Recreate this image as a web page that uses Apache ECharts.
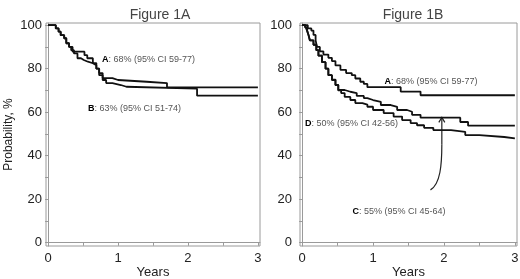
<!DOCTYPE html>
<html>
<head>
<meta charset="utf-8">
<script src="https://cdn.jsdelivr.net/npm/echarts@6/dist/echarts.min.js"></script>
<style>
  html, body { margin: 0; padding: 0; background: #fff; }
  #chart { width: 520px; height: 279px; }
</style>
</head>
<body>
<div id="chart"></div>
<script>
// Figure 1A: two curves (time in years, probability %)
const timesA1 = [0, 0.11, 0.15, 0.18, 0.23, 0.26, 0.3, 0.35, 0.52, 0.56, 0.64, 0.69, 0.73, 0.78, 0.92, 1.0, 1.41, 1.7, 3];
const survA1  = [100, 98.5, 97, 95.4, 94, 91.7, 90, 87.8, 86.2, 84.8, 82.6, 80, 77, 75.7, 74.8, 74, 73.4, 71.4, 71.4];
const timesB1 = [0, 0.11, 0.15, 0.18, 0.23, 0.26, 0.3, 0.33, 0.37, 0.42, 0.47, 0.51, 0.57, 0.64, 0.69, 0.73, 0.78, 0.83, 0.92, 1.04, 1.12, 2.13, 3];
const survB1  = [100, 98.5, 97, 95.4, 94, 91.7, 90, 88.5, 87, 84.8, 84, 83.2, 82.5, 81.6, 80, 78, 74.8, 73.4, 72.5, 71.7, 70.8, 67.6, 67.6];

// Figure 1B: three curves
const timesA2 = [0, 0.08, 0.13, 0.16, 0.19, 0.21, 0.25, 0.3, 0.37, 0.42, 0.47, 0.54, 0.62, 0.7, 0.75, 0.82, 0.87, 0.92, 1.39, 1.67, 3];
const survA2  = [100, 98.5, 97.5, 95.5, 93, 90, 88, 86.5, 85, 83.5, 81.5, 79.5, 78, 77, 75.5, 74, 73, 71.5, 69.5, 67.8, 67.8];
const timesC2 = [0, 0.04, 0.07, 0.09, 0.11, 0.16, 0.2, 0.23, 0.28, 0.33, 0.37, 0.42, 0.47, 0.51, 0.6, 0.68, 0.77, 0.87, 0.92, 1.0, 1.11, 1.25, 1.34, 1.48, 1.55, 1.67, 2.23, 2.34, 3];
const survC2  = [100, 99, 97.5, 95.5, 93, 91, 88.5, 86, 83, 80, 77, 75, 72.5, 70.2, 69.4, 68.8, 67.5, 66.5, 65.6, 64.8, 63.3, 62.5, 61, 60.2, 58.8, 57.5, 55.5, 53.8, 53.8];
const timesD2 = [0, 0.05, 0.07, 0.09, 0.11, 0.16, 0.2, 0.23, 0.28, 0.33, 0.37, 0.42, 0.47, 0.51, 0.55, 0.6, 0.68, 0.75, 0.85, 0.92, 1.0, 1.15, 1.29, 1.41, 1.53, 1.62, 1.72, 1.85, 2.1, 2.3, 2.5, 2.85, 3];
const survD2  = [100, 99, 97.5, 95.5, 93, 91, 88.5, 86, 83, 80, 77, 74.8, 72.5, 70, 68.8, 67, 65.6, 64.2, 63.5, 62.5, 61, 59.6, 58, 56.4, 55, 54, 52.8, 51.8, 51, 49.5, 48.6, 48, 48];

// axis ticks / labels
const xLabelValues = [0, 1, 2, 3];
const xTickValues = [0, 0.5, 1, 1.5, 2, 2.5, 3];
const yLabelValues = [0, 20, 40, 60, 80, 100];
const yTickValues = [0, 10, 20, 30, 40, 50, 60, 70, 80, 90, 100];

const panelTitles = ["Figure 1A", "Figure 1B"];

const pairs = (ts, vs) => ts.map((t, i) => [t, vs[i]]);

const chart = echarts.init(document.getElementById("chart"));

const axisGray = "#9a9a9a";
const fontFamily = "Liberation Sans, Arial, sans-serif";
const labelFont = { color: "#222", fontSize: 13, fontFamily: fontFamily };

function makeX(gridIndex) {
  return {
    type: "value", gridIndex: gridIndex, min: -0.03, max: 3.03,
    name: "Years", nameLocation: "middle", nameGap: 20, nameMoveOverlap: false,
    nameTextStyle: { color: "#222", fontSize: 13, fontFamily: fontFamily },
    axisLine: { lineStyle: { color: axisGray, width: 1 } },
    axisTick: { customValues: xTickValues, length: 3, lineStyle: { color: axisGray } },
    axisLabel: Object.assign({ customValues: xLabelValues, margin: 6 }, labelFont),
    splitLine: { show: false }
  };
}
function makeY(gridIndex, margin, withName) {
  return {
    type: "value", gridIndex: gridIndex, min: -1.5, max: 101,
    name: withName ? "Probability, %" : "", nameLocation: "middle", nameGap: 31, nameMoveOverlap: false,
    nameTextStyle: { color: "#222", fontSize: 12, fontFamily: fontFamily },
    axisLine: { show: true, lineStyle: { color: axisGray, width: 1 } },
    axisTick: { show: true, customValues: yTickValues, length: 3, lineStyle: { color: axisGray } },
    axisLabel: Object.assign({ customValues: yLabelValues, margin: margin }, labelFont),
    splitLine: { show: false }
  };
}
function curve(ts, vs, gridIndex) {
  return {
    type: "line", step: "end", xAxisIndex: gridIndex, yAxisIndex: gridIndex,
    data: pairs(ts, vs), showSymbol: false, silent: true,
    lineStyle: { color: "#111", width: 1.8 }
  };
}

chart.setOption({
  animation: false,
  title: [
    { text: panelTitles[0], left: 155, top: 3, textAlign: "center",
      textStyle: { color: "#444", fontSize: 14, fontWeight: "normal", fontFamily: fontFamily } },
    { text: panelTitles[1], left: 408, top: 3, textAlign: "center",
      textStyle: { color: "#444", fontSize: 14, fontWeight: "normal", fontFamily: fontFamily } }
  ],
  grid: [
    { left: 46, top: 23, width: 214, height: 223, show: true, borderColor: axisGray, borderWidth: 1,
      containLabel: false, outerBoundsMode: "none" },
    { left: 300, top: 23, width: 217, height: 223, show: true, borderColor: axisGray, borderWidth: 1,
      containLabel: false, outerBoundsMode: "none" }
  ],
  xAxis: [makeX(0), makeX(1)],
  yAxis: [makeY(0, 4, true), makeY(1, 8, false)],
  series: [
    curve(timesA1, survA1, 0),
    curve(timesB1, survB1, 0),
    curve(timesA2, survA2, 1),
    curve(timesC2, survC2, 1),
    curve(timesD2, survD2, 1)
  ]
});

// annotations, placed through the axes
function px(g, t, v) { return chart.convertToPixel({ gridIndex: g }, [t, v]); }
function label(g, t, v, key, rest) {
  const p = px(g, t, v);
  return {
    type: "text", x: p[0], y: p[1], silent: true,
    style: {
      text: "{b|" + key + "}" + rest,
      fill: "#555", fontSize: 9, fontFamily: fontFamily,
      verticalAlign: "middle",
      rich: { b: { fill: "#000", fontWeight: "bold", fontSize: 9, fontFamily: fontFamily } }
    }
  };
}

const a0 = px(1, 1.81, 24.3);
const c1 = px(1, 1.95, 27);
const c2 = px(1, 1.97, 36);
const a1 = px(1, 1.97, 45);
const tip = px(1, 1.97, 57.6);

chart.setOption({
  graphic: [
    label(0, 0.77, 84, "A", ": 68% (95% CI 59-77)"),
    label(0, 0.57, 61.5, "B", ": 63% (95% CI 51-74)"),
    label(1, 1.16, 74, "A", ": 68% (95% CI 59-77)"),
    label(1, 0.04, 55, "D", ": 50% (95% CI 42-56)"),
    label(1, 0.71, 14.2, "C", ": 55% (95% CI 45-64)"),
    { type: "bezierCurve", silent: true,
      shape: { x1: a0[0], y1: a0[1], cpx1: c1[0], cpy1: c1[1], cpx2: c2[0], cpy2: c2[1], x2: a1[0], y2: a1[1] },
      style: { stroke: "#222", lineWidth: 1.2, fill: null } },
    { type: "line", silent: true,
      shape: { x1: a1[0], y1: a1[1], x2: tip[0], y2: tip[1] },
      style: { stroke: "#222", lineWidth: 1.2 } },
    { type: "polyline", silent: true,
      shape: { points: [[tip[0] - 3, tip[1] + 5], [tip[0], tip[1]], [tip[0] + 3, tip[1] + 5]] },
      style: { stroke: "#222", lineWidth: 1.2, fill: null } }
  ]
});
</script>
</body>
</html>
